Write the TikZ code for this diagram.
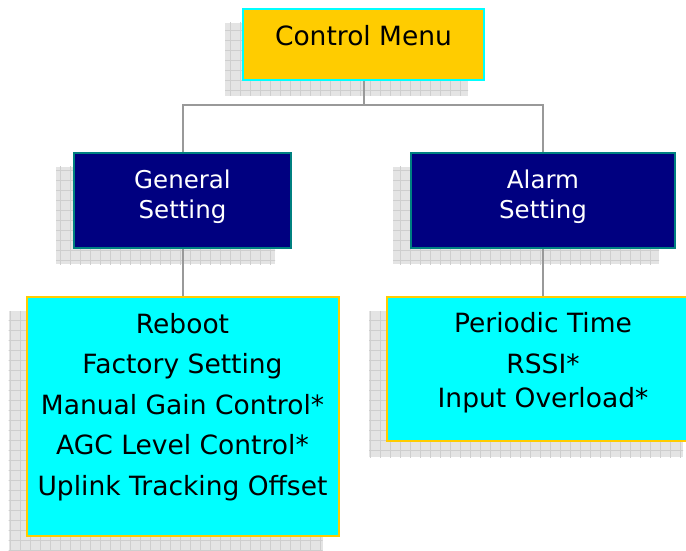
\documentclass[tikz,border=0pt]{standalone}
\usepackage{fontspec}
\setmainfont{DejaVu Sans}
\usetikzlibrary{positioning,calc,backgrounds}
\definecolor{menugold}{RGB}{255,204,0}
\definecolor{menucyan}{RGB}{0,255,255}
\definecolor{menunavy}{RGB}{0,0,128}
\definecolor{menuteal}{RGB}{0,128,128}
\definecolor{linkgray}{RGB}{153,153,153}
\definecolor{shadefill}{RGB}{228,228,228}
\definecolor{shadeline}{RGB}{206,206,206}

% grid shadow behind a box, shifted down-left
\newcommand{\boxshade}[1]{%
  \begin{scope}[on background layer]
    \fill[shadefill] ($(#1.south west)+(-17,-15)$) rectangle ($(#1.north east)+(-17,-15)$);
    \begin{scope}
      \clip ($(#1.south west)+(-17,-15)$) rectangle ($(#1.north east)+(-17,-15)$);
      \draw[shadeline, line width=0.6pt, step=10pt] ($(#1.south west)+(-27,-25)$) grid ($(#1.north east)+(-7,-5)$);
    \end{scope}
  \end{scope}}

\begin{document}
\begin{tikzpicture}[x=1pt, y=1pt,
    menubox/.style={draw=menucyan, fill=menugold, line width=2pt, inner sep=0pt},
    setbox/.style={draw=menuteal, fill=menunavy, line width=2pt, inner sep=0pt},
    listbox/.style={draw=menugold, fill=menucyan, line width=2pt, inner sep=0pt},
    boxtext/.style={font=\fontsize{26.5}{40.5}\selectfont, align=center, inner sep=0pt},
    settext/.style={font=\fontsize{24.5}{30}\selectfont, align=center, text=white, inner sep=0pt},
    link/.style={draw=linkgray, line width=2pt}
]
    \useasboundingbox (0,0) rectangle (686,550);

    \node[menubox, minimum width=241pt, minimum height=71pt] (menu)      at (363.5,505.5) {};
    \node[setbox,  minimum width=217pt, minimum height=95pt] (general)   at (182.5,349.5) {};
    \node[setbox,  minimum width=264pt, minimum height=95pt] (alarm)     at (543,349.5)   {};
    \node[listbox, minimum width=312pt, minimum height=239pt] (genlist)  at (182.5,133.5) {};
    \node[listbox, minimum width=312pt, minimum height=144pt] (alarmlist) at (543,181)    {};

    \boxshade{menu}
    \boxshade{general}
    \boxshade{alarm}
    \boxshade{genlist}
    \boxshade{alarmlist}

    \node[boxtext] (menuT)      at (363.5,513.9) {Control Menu};
    \node[settext] (generalT)   at (182.5,353.4) {General\\Setting};
    \node[settext] (alarmT)     at (543,353.4)   {Alarm\\Setting};
    \node[boxtext] (genlistT)   at (182.5,142.9) {Reboot\\Factory Setting\\Manual Gain Control*\\AGC Level Control*\\Uplink Tracking Offset};
    \node[boxtext] (alarmlistT) at (543,186.9)   {Periodic Time\\RSSI*\\[-6pt]Input Overload*};

    \draw[link] (menu.south) -- ++(0,-24.5) coordinate (fork) -| (general.north);
    \draw[link] (fork) -| (alarm.north);
    \draw[link] (general.south) -- (genlist.north);
    \draw[link] (alarm.south) -- (alarmlist.north);
\end{tikzpicture}
\end{document}
